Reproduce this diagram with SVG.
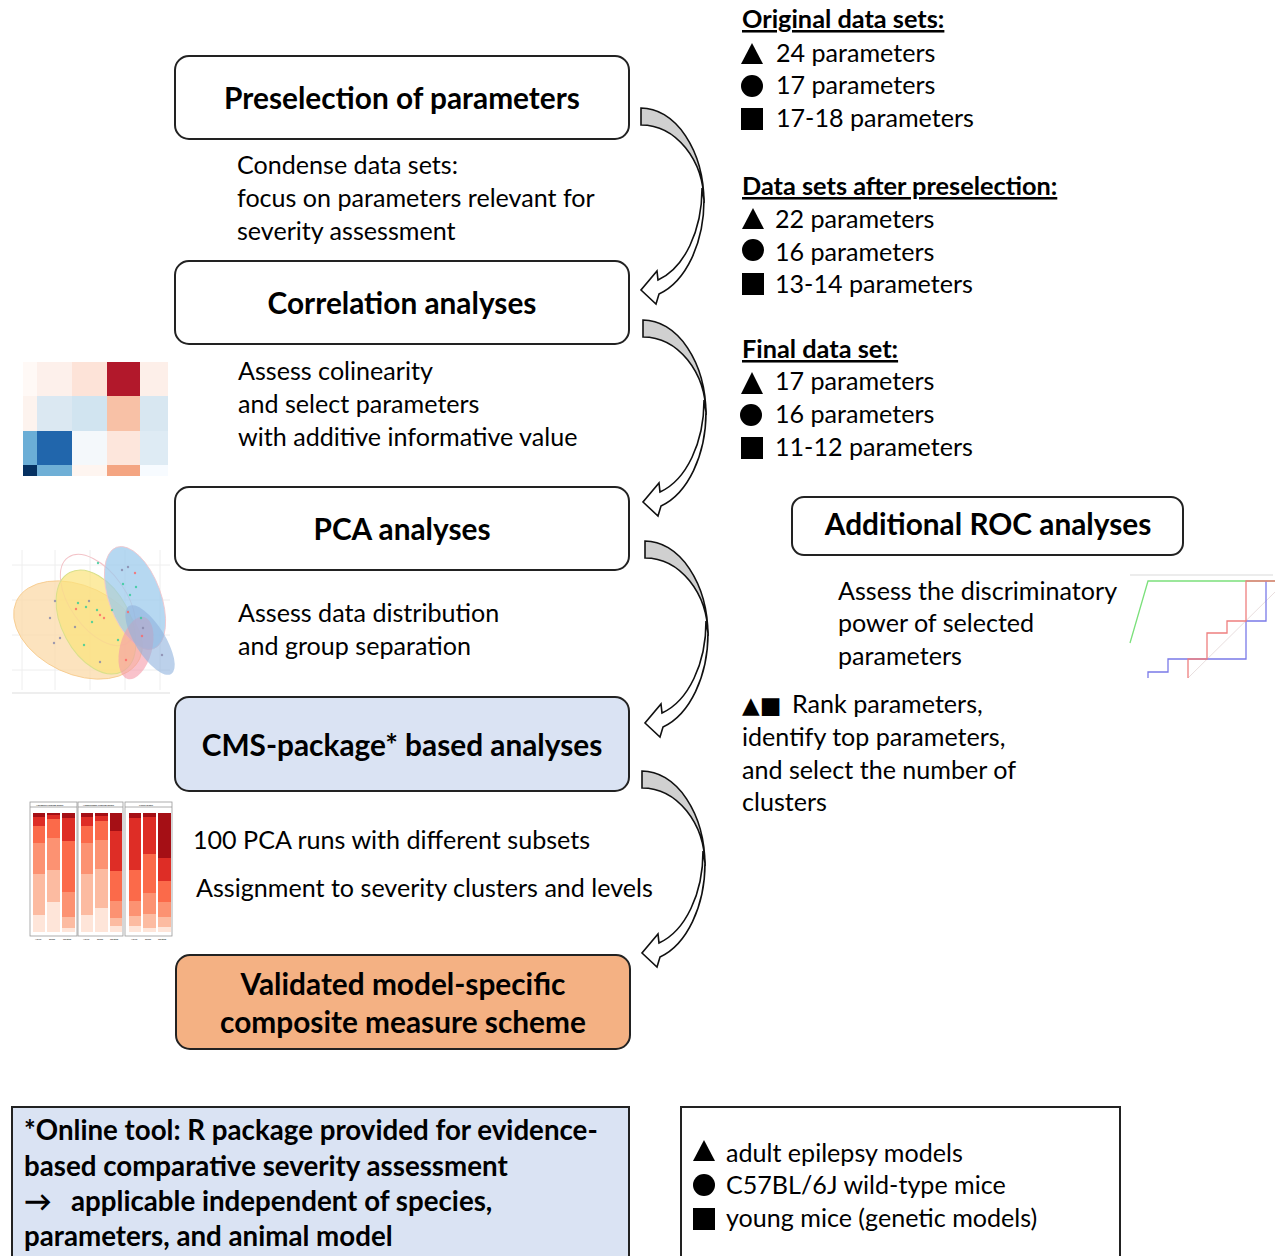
<svg xmlns="http://www.w3.org/2000/svg" xmlns:xlink="http://www.w3.org/1999/xlink" width="1280" height="1256" viewBox="0 0 1280 1256">
<style>
text{font-family:Lato,"Open Sans","Liberation Sans",sans-serif;fill:#000}
.h{font-size:29.8px;font-weight:700;text-anchor:middle}
.t{font-size:25.1px}
.b{font-size:25.3px;font-weight:700}
.nb{font-size:27.7px;font-weight:700}
.u{text-decoration:underline}
.box{stroke:#222;stroke-width:2}
.sym{fill:#000}
.gray{fill:#d0d0d0;stroke:#111;stroke-width:1.6}
.wht{fill:#fff;stroke:#111;stroke-width:1.6}
</style>
<defs>
<g id="carrow">
<path class="gray" d="M0,0 A63,95 0 0 1 63,95 A63,78 0 0 0 0,17 Z"/>
<path class="wht" d="M61,80 A61,95 0 0 1 17,172 L16,163 L0,182 L15,196 L18,186 A63,98 0 0 0 63,92 Z"/>
</g>
</defs>
<rect width="1280" height="1256" fill="#fff"/>

<!-- flow boxes -->
<g id="n1"><rect class="box" x="175" y="56" width="454" height="83" rx="14" fill="#fff"/><text class="h" x="402" y="109">Preselection of parameters</text></g>
<g id="n2"><rect class="box" x="175" y="261" width="454" height="83" rx="14" fill="#fff"/><text class="h" x="402" y="314">Correlation analyses</text></g>
<g id="n3"><rect class="box" x="175" y="487" width="454" height="83" rx="14" fill="#fff"/><text class="h" x="402" y="540">PCA analyses</text></g>
<g id="n4"><rect class="box" x="175" y="697" width="454" height="94" rx="14" fill="#dae3f3"/><text class="h" x="402" y="756">CMS-package* based analyses</text></g>
<g id="n5"><rect class="box" x="176" y="955" width="454" height="94" rx="14" fill="#f4b183"/><text class="h" x="403" y="995">Validated model-specific</text><text class="h" x="403" y="1033">composite measure scheme</text></g>
<g id="n6"><rect class="box" x="792" y="497" width="391" height="58" rx="12" fill="#fff"/><text class="h" x="988" y="535">Additional ROC analyses</text></g>

<!-- descriptions -->
<g id="d1"><text class="t" x="237" y="174">Condense data sets:</text><text class="t" x="237" y="207">focus on parameters relevant for</text><text class="t" x="237" y="240">severity assessment</text></g>
<g id="d2"><text class="t" x="238" y="380">Assess colinearity</text><text class="t" x="238" y="413">and select parameters</text><text class="t" x="238" y="446">with additive informative value</text></g>
<g id="d3"><text class="t" x="238" y="622">Assess data distribution</text><text class="t" x="238" y="655">and group separation</text></g>
<g id="d4"><text class="t" x="193" y="849">100 PCA runs with different subsets</text><text class="t" x="196" y="897">Assignment to severity clusters and levels</text></g>
<g id="d6"><text class="t" x="838" y="600">Assess the discriminatory</text><text class="t" x="838" y="632">power of selected</text><text class="t" x="838" y="665">parameters</text></g>
<g id="d7"><text class="t" x="742" y="713"><tspan font-family="'DejaVu Sans',sans-serif" font-size="23">▲■</tspan><tspan x="792">Rank parameters,</tspan></text><text class="t" x="742" y="746">identify top parameters,</text><text class="t" x="742" y="779">and select the number of</text><text class="t" x="742" y="811">clusters</text></g>

<!-- right column data sets -->
<g id="ds1">
<text class="b u" x="742" y="28">Original data sets:</text>
<polygon class="sym" points="741,64 763,64 752,43"/><text class="t" x="776" y="62">24 parameters</text>
<circle class="sym" cx="752" cy="86" r="11"/><text class="t" x="776" y="94">17 parameters</text>
<rect class="sym" x="741" y="108" width="22" height="22"/><text class="t" x="776" y="127">17-18 parameters</text>
</g>
<g id="ds2">
<text class="b u" x="742" y="195">Data sets after preselection:</text>
<polygon class="sym" points="742,229 764,229 753,208"/><text class="t" x="775" y="228">22 parameters</text>
<circle class="sym" cx="753" cy="250" r="11"/><text class="t" x="775" y="261">16 parameters</text>
<rect class="sym" x="742" y="273" width="22" height="22"/><text class="t" x="775" y="293">13-14 parameters</text>
</g>
<g id="ds3">
<text class="b u" x="742" y="358">Final data set:</text>
<polygon class="sym" points="741,394 763,394 752,372"/><text class="t" x="775" y="390">17 parameters</text>
<circle class="sym" cx="751" cy="415" r="11"/><text class="t" x="775" y="423">16 parameters</text>
<rect class="sym" x="741" y="437" width="22" height="22"/><text class="t" x="775" y="456">11-12 parameters</text>
</g>

<!-- connectors -->
<g id="connectors">
<use xlink:href="#carrow" transform="translate(641,108)"/>
<use xlink:href="#carrow" transform="translate(643,320)"/>
<use xlink:href="#carrow" transform="translate(645,541)"/>
<use xlink:href="#carrow" transform="translate(642,771)"/>
</g>

<!-- heatmap thumbnail -->
<g id="heatmap">
<rect x="23" y="362" width="14" height="34" fill="#fff9f6"/><rect x="37" y="362" width="35" height="34" fill="#fdf0eb"/><rect x="72" y="362" width="35" height="34" fill="#fde3d8"/><rect x="107" y="362" width="33" height="34" fill="#b2182b"/><rect x="140" y="362" width="28" height="34" fill="#fdefe9"/>
<rect x="23" y="396" width="14" height="35" fill="#fdf3ee"/><rect x="37" y="396" width="35" height="35" fill="#dbe8f2"/><rect x="72" y="396" width="35" height="35" fill="#d1e4f0"/><rect x="107" y="396" width="33" height="35" fill="#f8c1a6"/><rect x="140" y="396" width="28" height="35" fill="#d8e7f1"/>
<rect x="23" y="431" width="14" height="34" fill="#6baed6"/><rect x="37" y="431" width="35" height="34" fill="#2166ac"/><rect x="72" y="431" width="35" height="34" fill="#f4f8fb"/><rect x="107" y="431" width="33" height="34" fill="#fde6dc"/><rect x="140" y="431" width="28" height="34" fill="#deebf4"/>
<rect x="23" y="465" width="14" height="11" fill="#053061"/><rect x="37" y="465" width="35" height="11" fill="#6fafd6"/><rect x="72" y="465" width="35" height="11" fill="#fef5f0"/><rect x="107" y="465" width="33" height="11" fill="#f4a582"/><rect x="140" y="465" width="28" height="11" fill="#f7fbff"/>
</g>

<!-- PCA thumbnail -->
<g id="pca">
<g stroke="#eee" stroke-width="1">
<line x1="12" y1="565" x2="170" y2="565"/><line x1="12" y1="600" x2="170" y2="600"/><line x1="12" y1="635" x2="170" y2="635"/><line x1="12" y1="670" x2="170" y2="670"/>
<line x1="22" y1="550" x2="22" y2="690"/><line x1="55" y1="550" x2="55" y2="690"/><line x1="90" y1="550" x2="90" y2="690"/><line x1="125" y1="550" x2="125" y2="690"/><line x1="160" y1="550" x2="160" y2="690"/>
</g>
<line x1="12" y1="693" x2="170" y2="693" stroke="#ddd"/>
<ellipse cx="78" cy="630" rx="68" ry="44" transform="rotate(25 78 630)" fill="#fbd9a8" fill-opacity="0.75" stroke="#f6c98a" stroke-width="0.8"/>
<ellipse cx="98" cy="600" rx="28" ry="52" transform="rotate(-35 98 600)" fill="none" stroke="#f3c3c8" stroke-width="1"/>
<ellipse cx="96" cy="622" rx="34" ry="56" transform="rotate(-28 96 622)" fill="#fbe37a" fill-opacity="0.7" stroke="#d9e08a" stroke-width="1"/>
<ellipse cx="135" cy="598" rx="26" ry="54" transform="rotate(-20 135 598)" fill="#9dcbec" fill-opacity="0.75" stroke="#f1c6cc" stroke-width="0.8"/>
<ellipse cx="136" cy="648" rx="16" ry="32" transform="rotate(15 136 648)" fill="#f59aa8" fill-opacity="0.6"/>
<ellipse cx="150" cy="640" rx="15" ry="40" transform="rotate(-32 150 640)" fill="#8fb2dd" fill-opacity="0.6"/>
<g fill="#3c9" opacity="0.8">
<circle cx="78" cy="603" r="1.2"/><circle cx="86" cy="607" r="1.2"/><circle cx="97" cy="610" r="1.2"/><circle cx="92" cy="622" r="1.2"/><circle cx="84" cy="645" r="1.2"/><circle cx="112" cy="610" r="1.2"/><circle cx="123" cy="584" r="1.2"/><circle cx="136" cy="587" r="1.2"/><circle cx="130" cy="595" r="1.2"/><circle cx="141" cy="618" r="1.2"/><circle cx="118" cy="640" r="1.2"/><circle cx="98" cy="563" r="1.2"/>
</g>
<g fill="#f66" opacity="0.8">
<circle cx="76" cy="609" r="1.2"/><circle cx="100" cy="615" r="1.2"/><circle cx="104" cy="618" r="1.2"/><circle cx="135" cy="573" r="1.2"/><circle cx="128" cy="612" r="1.2"/><circle cx="126" cy="660" r="1.2"/><circle cx="142" cy="636" r="1.2"/>
</g>
<g fill="#88a" opacity="0.8">
<circle cx="55" cy="601" r="1.2"/><circle cx="50" cy="618" r="1.2"/><circle cx="54" cy="643" r="1.2"/><circle cx="60" cy="638" r="1.2"/><circle cx="75" cy="627" r="1.2"/><circle cx="89" cy="601" r="1.2"/><circle cx="122" cy="570" r="1.2"/><circle cx="128" cy="567" r="1.2"/><circle cx="143" cy="628" r="1.2"/><circle cx="162" cy="655" r="1.2"/><circle cx="100" cy="662" r="1.2"/>
</g>
</g>

<!-- stacked bar thumbnail -->
<g id="bars">
<g fill="none" stroke="#999" stroke-width="0.8">
<rect x="30" y="802" width="47" height="134"/><rect x="78" y="802" width="45" height="134"/><rect x="125" y="802" width="47" height="134"/>
<line x1="30" y1="807" x2="77" y2="807"/><line x1="78" y1="807" x2="123" y2="807"/><line x1="125" y1="807" x2="172" y2="807"/>
</g>
<g font-size="2.5" fill="#444"><text x="36" y="806">Amygdala kindling model</text><text x="83" y="806">Hippocampal kindling model</text><text x="139" y="806">Kainic model</text></g>
<rect x="33" y="813" width="12" height="4" fill="#a50f15"/><rect x="33" y="817" width="12" height="9" fill="#de2d26"/><rect x="33" y="826" width="12" height="17" fill="#fb6a4a"/><rect x="33" y="843" width="12" height="31" fill="#fc9272"/><rect x="33" y="874" width="12" height="41" fill="#fcbba1"/><rect x="33" y="915" width="12" height="17" fill="#fee5d9"/>
<rect x="47" y="813" width="13" height="2" fill="#a50f15"/><rect x="47" y="815" width="13" height="4" fill="#de2d26"/><rect x="47" y="819" width="13" height="19" fill="#fb6a4a"/><rect x="47" y="838" width="13" height="32" fill="#fc9272"/><rect x="47" y="870" width="13" height="32" fill="#fcbba1"/><rect x="47" y="902" width="13" height="30" fill="#fee5d9"/>
<rect x="62" y="813" width="13" height="5" fill="#a50f15"/><rect x="62" y="818" width="13" height="23" fill="#de2d26"/><rect x="62" y="841" width="13" height="51" fill="#fb6a4a"/><rect x="62" y="892" width="13" height="25" fill="#fc9272"/><rect x="62" y="917" width="13" height="11" fill="#fcbba1"/><rect x="62" y="928" width="13" height="4" fill="#fee5d9"/>
<rect x="81" y="813" width="12" height="4" fill="#a50f15"/><rect x="81" y="817" width="12" height="9" fill="#de2d26"/><rect x="81" y="826" width="12" height="17" fill="#fb6a4a"/><rect x="81" y="843" width="12" height="31" fill="#fc9272"/><rect x="81" y="874" width="12" height="41" fill="#fcbba1"/><rect x="81" y="915" width="12" height="17" fill="#fee5d9"/>
<rect x="95" y="813" width="13" height="3" fill="#a50f15"/><rect x="95" y="816" width="13" height="5" fill="#de2d26"/><rect x="95" y="821" width="13" height="19" fill="#fb6a4a"/><rect x="95" y="840" width="13" height="29" fill="#fc9272"/><rect x="95" y="869" width="13" height="39" fill="#fcbba1"/><rect x="95" y="908" width="13" height="24" fill="#fee5d9"/>
<rect x="110" y="813" width="12" height="18" fill="#a50f15"/><rect x="110" y="831" width="12" height="40" fill="#de2d26"/><rect x="110" y="871" width="12" height="30" fill="#fb6a4a"/><rect x="110" y="901" width="12" height="17" fill="#fc9272"/><rect x="110" y="918" width="12" height="8" fill="#fcbba1"/><rect x="110" y="926" width="12" height="6" fill="#fee5d9"/>
<rect x="129" y="813" width="12" height="5" fill="#a50f15"/><rect x="129" y="818" width="12" height="52" fill="#de2d26"/><rect x="129" y="870" width="12" height="31" fill="#fb6a4a"/><rect x="129" y="901" width="12" height="15" fill="#fc9272"/><rect x="129" y="916" width="12" height="10" fill="#fcbba1"/><rect x="129" y="926" width="12" height="6" fill="#fee5d9"/>
<rect x="143" y="813" width="13" height="4" fill="#a50f15"/><rect x="143" y="817" width="13" height="37" fill="#de2d26"/><rect x="143" y="854" width="13" height="39" fill="#fb6a4a"/><rect x="143" y="893" width="13" height="21" fill="#fc9272"/><rect x="143" y="914" width="13" height="14" fill="#fcbba1"/><rect x="143" y="928" width="13" height="4" fill="#fee5d9"/>
<rect x="158" y="813" width="13" height="45" fill="#a50f15"/><rect x="158" y="858" width="13" height="23" fill="#de2d26"/><rect x="158" y="881" width="13" height="21" fill="#fb6a4a"/><rect x="158" y="902" width="13" height="15" fill="#fc9272"/><rect x="158" y="917" width="13" height="10" fill="#fcbba1"/><rect x="158" y="927" width="13" height="5" fill="#fee5d9"/>
<g font-size="2.5" fill="#666"><text x="35" y="940">Naive</text><text x="49" y="940">Sham</text><text x="63" y="940">Treated</text><text x="83" y="940">Naive</text><text x="97" y="940">Sham</text><text x="110" y="940">Treated</text><text x="131" y="940">Naive</text><text x="145" y="940">Sham</text><text x="158" y="940">Treated</text></g>
</g>

<!-- ROC thumbnail -->
<g id="roc" fill="none" stroke-width="1.3">
<line x1="1130" y1="575" x2="1273" y2="575" stroke="#e6e6e6"/>
<line x1="1188" y1="678" x2="1275" y2="592" stroke="#e8dede" stroke-width="1"/>
<polyline points="1130,643 1148,581 1275,581" stroke="#7be07b"/>
<polyline points="1148,678 1148,672 1168,672 1168,659 1246,659 1246,621 1266,621 1266,581" stroke="#7a7ae8"/>
<polyline points="1188,678 1188,659 1207,659 1207,633 1227,633 1227,621 1246,621 1246,581 1275,581" stroke="#ee7f7f"/>
</g>

<!-- footnote box -->
<g id="note">
<rect class="box" x="12" y="1107" width="617" height="160" fill="#dae3f3"/>
<text class="nb" x="24" y="1140">*Online tool: R package provided for evidence-</text>
<text class="nb" x="24" y="1176">based comparative severity assessment</text>
<text class="nb" x="24" y="1211">→<tspan x="71">applicable independent of species,</tspan></text>
<text class="nb" x="24" y="1246">parameters, and animal model</text>
</g>

<!-- legend box -->
<g id="legend">
<rect class="box" x="681" y="1107" width="439" height="160" fill="#fff"/>
<polygon class="sym" points="693,1161 715,1161 704,1140"/><text class="t" x="726" y="1162" font-size="25.6">adult epilepsy models</text>
<circle class="sym" cx="704" cy="1185" r="11"/><text class="t" x="726" y="1194" font-size="25.6">C57BL/6J wild-type mice</text>
<rect class="sym" x="693" y="1208" width="22" height="22"/><text class="t" x="726" y="1227" font-size="25.6">young mice (genetic models)</text>
</g>
</svg>
